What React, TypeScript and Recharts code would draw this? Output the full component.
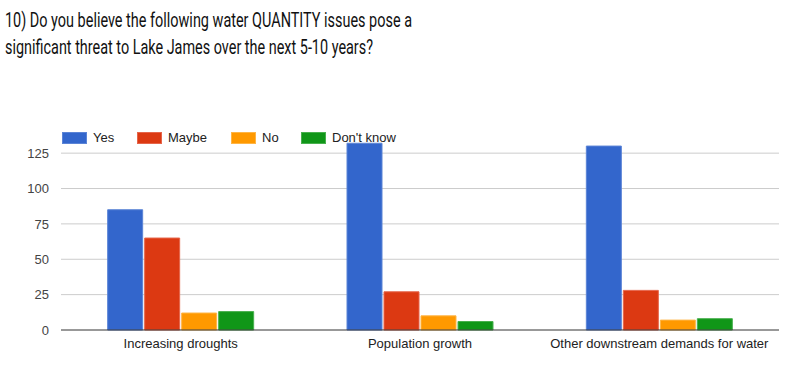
import React from "react";
import { BarChart, Bar, XAxis, YAxis, CartesianGrid } from "recharts";

const categories = ["Increasing droughts", "Population growth", "Other downstream demands for water"];
const yesValues = [85, 132, 130];
const maybeValues = [65, 27, 28];
const noValues = [12, 10, 7];
const dontKnowValues = [13, 6, 8];
const yTicks = [0, 25, 50, 75, 100, 125];

const titleLines = [
  "10) Do you believe the following water QUANTITY issues pose a",
  "significant threat to Lake James over the next 5-10 years?",
];

const series = [
  { key: "yes", name: "Yes", color: "#3366cc", stroke: "#5b84d6" },
  { key: "maybe", name: "Maybe", color: "#dc3912", stroke: "#e6654a" },
  { key: "no", name: "No", color: "#ff9900", stroke: "#ffb545" },
  { key: "dk", name: "Don't know", color: "#109618", stroke: "#48b04e" },
];

const data = categories.map((c, i) => ({
  name: c,
  yes: yesValues[i],
  maybe: maybeValues[i],
  no: noValues[i],
  dk: dontKnowValues[i],
}));

const legendX = [62, 137, 231, 301];

const gridGen = (props: any) => {
  const yAxis = props && props.yAxis;
  const s = yAxis && yAxis.scale;
  let f: ((v: number) => number) | null = null;
  if (typeof s === "function") f = (v) => s(v);
  else if (s && typeof s.map === "function") f = (v) => s.map(v);
  if (!f) return [];
  return yTicks.filter((t) => t > 0).map((t) => f!(t));
};

export default function App() {
  return (
    <div style={{ position: "absolute", left: 0, top: 0, width: 800, height: 372, background: "#fff" }}>
      <svg width={800} height={70} style={{ position: "absolute", left: 0, top: 0 }}>
        <text x={5} y={27} fontFamily="Roboto" fontSize={21} fill="#111111" textLength={407} lengthAdjust="spacingAndGlyphs">
          {titleLines[0]}
        </text>
        <text x={5} y={54} fontFamily="Roboto" fontSize={21} fill="#111111" textLength={368} lengthAdjust="spacingAndGlyphs">
          {titleLines[1]}
        </text>
      </svg>
      <div style={{ position: "absolute", left: 0, top: 0 }}>
        <BarChart
          width={800}
          height={372}
          data={data}
          margin={{ top: 139, right: 21, bottom: 12, left: 0 }}
          barCategoryGap="19.5%"
          barGap={2}
        >
          <CartesianGrid vertical={false} stroke="#cccccc" horizontalCoordinatesGenerator={gridGen} />
          <XAxis
            dataKey="name"
            tickLine={false}
            tickSize={0}
            tickMargin={9}
            axisLine={{ stroke: "#333333" }}
            tick={{ fill: "#222222", fontSize: 13, fontFamily: "Liberation Sans, Arial" }}
          />
          <YAxis
            domain={[0, 135]}
            ticks={yTicks}
            width={61}
            tickLine={false}
            tickSize={0}
            tickMargin={12}
            axisLine={false}
            tick={{ fill: "#444444", fontSize: 13, fontFamily: "Liberation Sans, Arial" }}
          />
          {series.map((s) => (
            <Bar
              key={s.key}
              dataKey={s.key}
              name={s.name}
              fill={s.color}
              stroke={s.stroke}
              strokeWidth={1}
              isAnimationActive={false}
            />
          ))}
        </BarChart>
      </div>
      {series.map((s, i) => (
        <div
          key={s.key}
          style={{
            position: "absolute",
            left: legendX[i],
            top: 130,
            display: "flex",
            alignItems: "center",
            fontFamily: "Liberation Sans, Arial",
            fontSize: 13,
            color: "#222",
            whiteSpace: "nowrap",
          }}
        >
          <div style={{ width: 25, height: 12, background: s.color, boxSizing: "border-box", border: `1px solid ${s.stroke}` }} />
          <span style={{ marginLeft: 6 }}>{s.name}</span>
        </div>
      ))}
    </div>
  );
}
